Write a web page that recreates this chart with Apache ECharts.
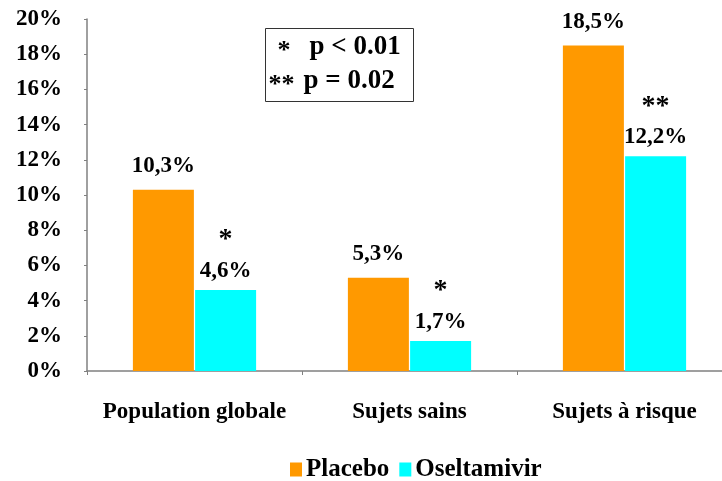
<!DOCTYPE html>
<html>
<head>
<meta charset="utf-8">
<script src="https://cdn.jsdelivr.net/npm/echarts@6/dist/echarts.min.js"></script>
<style>
  html, body { margin: 0; padding: 0; background: #fff; }
  #chart { width: 722px; height: 481px; }
</style>
</head>
<body>
<div id="chart"></div>
<script>
// Groups on the x axis
const categories = ['Population globale', 'Sujets sains', 'Sujets à risque'];
// Rates in percent
const placebo = [10.3, 5.3, 18.5];
const oseltamivir = [4.6, 1.7, 12.2];
// Significance markers above the Oseltamivir bars
const oseltamivirMarks = ['*', '*', '**'];
// Y axis range (percent)
const yMin = 0, yMax = 20, yStep = 2;

const serif = '"Liberation Serif", "Times New Roman", serif';
const fmt = v => String(v.toFixed(1)).replace('.', ',') + '%';

const chart = echarts.init(document.getElementById('chart'));
chart.setOption({
  animation: false,
  backgroundColor: '#fff',
  textStyle: { fontFamily: serif },
  grid: { left: 87, top: 19, width: 645, height: 352, containLabel: false, outerBoundsMode: 'none' },
  legend: {
    top: 452,
    left: 285,
    itemWidth: 12,
    itemHeight: 14,
    itemGap: 10,
    icon: 'rect',
    textStyle: { fontFamily: serif, fontWeight: 'bold', fontSize: 25, color: '#000', padding: [0, 0, 0, -1] },
    data: ['Placebo', 'Oseltamivir']
  },
  xAxis: {
    type: 'category',
    data: categories,
    axisLine: { lineStyle: { color: '#808080', width: 1.5 } },
    axisTick: { show: true, length: 4, lineStyle: { color: '#808080' } },
    axisLabel: { interval: 0, margin: 30, fontFamily: serif, fontWeight: 'bold', fontSize: 23, color: '#000' }
  },
  yAxis: {
    type: 'value',
    min: yMin, max: yMax, interval: yStep,
    axisLine: { show: true, lineStyle: { color: '#808080', width: 1.5 } },
    axisTick: { show: true, length: 3, lineStyle: { color: '#808080' } },
    splitLine: { show: false },
    axisLabel: {
      margin: 25, fontFamily: serif, fontWeight: 'bold', fontSize: 23, color: '#000',
      formatter: v => v + '%'
    }
  },
  series: [
    {
      name: 'Placebo',
      type: 'bar',
      data: placebo,
      barWidth: 61,
      barGap: '2%',
      itemStyle: { color: '#FF9900' },
      label: {
        show: true, position: 'top', distance: 12,
        fontFamily: serif, fontWeight: 'bold', fontSize: 23, color: '#000',
        formatter: p => fmt(p.value)
      }
    },
    {
      name: 'Oseltamivir',
      type: 'bar',
      data: oseltamivir,
      barWidth: 61,
      itemStyle: { color: '#00FFFF' },
      label: {
        show: true, position: 'top', distance: 6,
        color: '#000',
        formatter: p => '{s|' + oseltamivirMarks[p.dataIndex] + '}\n{v|' + fmt(p.value) + '}',
        rich: {
          s: { fontFamily: serif, fontWeight: 'bold', fontSize: 28, lineHeight: 36, color: '#000', align: 'center' },
          v: { fontFamily: serif, fontWeight: 'bold', fontSize: 23, lineHeight: 26, color: '#000', align: 'center' }
        }
      }
    }
  ],
  graphic: [
    {
      type: 'group',
      left: 265, top: 28,
      children: [
        { type: 'rect', shape: { x: 0, y: 0, width: 148, height: 73 },
          style: { fill: '#fff', stroke: '#333', lineWidth: 1 } },
        { type: 'text', x: 12, y: 10,
          style: { text: '*', font: 'bold 26px ' + serif, fill: '#000' } },
        { type: 'text', x: 44, y: 5,
          style: { text: 'p < 0.01', font: 'bold 27px ' + serif, fill: '#000' } },
        { type: 'text', x: 3, y: 44,
          style: { text: '**', font: 'bold 26px ' + serif, fill: '#000' } },
        { type: 'text', x: 38, y: 39,
          style: { text: 'p = 0.02', font: 'bold 27px ' + serif, fill: '#000' } }
      ]
    }
  ]
});
</script>
</body>
</html>
